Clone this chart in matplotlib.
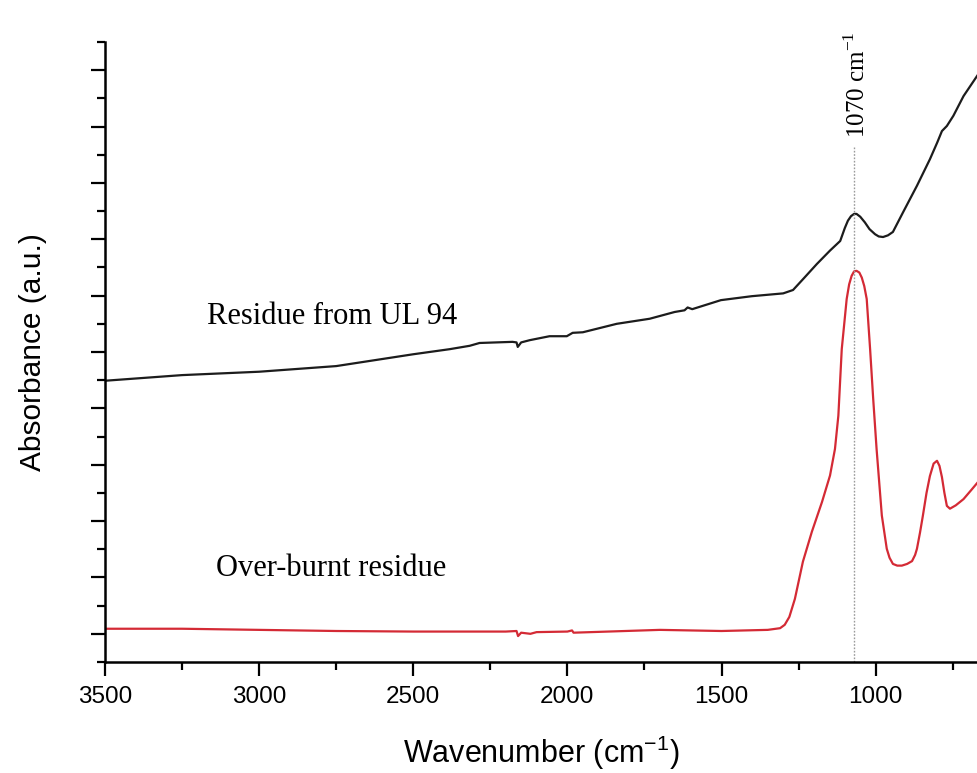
import numpy as np
import matplotlib
matplotlib.use("Agg")
import matplotlib.pyplot as plt
from matplotlib.ticker import MultipleLocator, NullFormatter

# Espectros FTIR (numero de onda, absorbancia desplazada)
ul94_wn = [3500, 3250, 3000, 2750, 2500, 2382, 2317, 2285, 2178, 2165, 2161, 2150,
           2122, 2058, 2002, 1983, 1950, 1840, 1733, 1652, 1620, 1610, 1595, 1502,
           1402, 1300, 1268, 1236, 1191, 1148, 1115, 1100, 1090, 1080, 1070, 1062,
           1050, 1035, 1020, 1002, 990, 976, 960, 944, 911, 866, 824, 800, 785,
           769, 748, 715, 667]
ul94_abs = [4.49, 4.59, 4.65, 4.75, 4.96, 5.05, 5.11, 5.16, 5.18, 5.17, 5.09, 5.17,
            5.21, 5.28, 5.28, 5.34, 5.35, 5.50, 5.59, 5.71, 5.74, 5.79, 5.76, 5.92,
            5.99, 6.04, 6.10, 6.29, 6.56, 6.80, 6.97, 7.20, 7.33, 7.41, 7.45, 7.45,
            7.40, 7.30, 7.18, 7.09, 7.05, 7.04, 7.07, 7.13, 7.48, 7.95, 8.42, 8.72,
            8.92, 9.01, 9.19, 9.54, 9.93]

burnt_wn = [3500, 3250, 3000, 2750, 2500, 2200, 2165, 2160, 2150, 2120, 2100, 2000,
            1985, 1980, 1700, 1500, 1350, 1310, 1295, 1280, 1262, 1236, 1207, 1174,
            1148, 1132, 1121, 1110, 1094, 1086, 1078, 1070, 1062, 1053, 1045, 1037,
            1029, 1018, 1008, 997, 980, 964, 955, 944, 930, 915, 898, 882, 872, 866,
            856, 847, 835, 824, 812, 801, 793, 785, 777, 769, 759, 740, 715, 690, 667]
burnt_abs = [0.09, 0.09, 0.07, 0.05, 0.04, 0.04, 0.05, -0.04, 0.02, 0.00, 0.03, 0.04,
             0.06, 0.02, 0.07, 0.05, 0.07, 0.10, 0.16, 0.30, 0.62, 1.28, 1.81, 2.34,
             2.81, 3.28, 3.87, 5.05, 5.94, 6.20, 6.35, 6.43, 6.44, 6.41, 6.32, 6.17,
             5.94, 5.05, 4.17, 3.28, 2.10, 1.51, 1.35, 1.24, 1.21, 1.21, 1.24, 1.29,
             1.40, 1.51, 1.80, 2.09, 2.50, 2.80, 3.02, 3.07, 2.98, 2.78, 2.50, 2.27,
             2.22, 2.28, 2.39, 2.55, 2.70]

x_ticks = [3500, 3000, 2500, 2000, 1500, 1000]
peak_wn = 1070
labels = ["Residue from UL 94", "Over-burnt residue"]

sans = "Liberation Sans"
serif = "Liberation Serif"

fig = plt.figure(figsize=(9.78, 7.73), dpi=100)
ax = fig.add_axes([105 / 978, 111 / 773, 873 / 978, 620 / 773])

ax.plot(ul94_wn, ul94_abs, color="#1c1c1c", lw=1.6)
ax.plot(burnt_wn, burnt_abs, color="#d42a35", lw=1.6)

ax.vlines(peak_wn, -0.5, 8.63, colors="#9a9a9a", linestyles=(0, (1.2, 1.2)), lw=1.0)
ax.text(peak_wn - 10, 8.8, r"1070 cm$^{\mathregular{-1}}$", rotation=90,
        ha="center", va="bottom", family=serif, fontsize=18)

ax.text(3170, 5.5, labels[0], family=serif, fontsize=22, va="baseline")
ax.text(3140, 1.03, labels[1], family=serif, fontsize=22, va="baseline")

ax.set_xlim(3500, 668)
ax.set_ylim(-0.5, 10.5)

ax.set_xticks(x_ticks)
ax.xaxis.set_minor_locator(MultipleLocator(250))
ax.yaxis.set_major_locator(MultipleLocator(1))
ax.yaxis.set_minor_locator(MultipleLocator(0.5))
ax.yaxis.set_major_formatter(NullFormatter())

ax.tick_params(which="major", direction="out", length=10, width=1.6,
               labelsize=17.5, pad=7)
ax.tick_params(which="minor", direction="out", length=5.5, width=1.6)
for lab in ax.get_xticklabels():
    lab.set_family(sans)

for side in ["top", "right"]:
    ax.spines[side].set_visible(False)
for side in ["left", "bottom"]:
    ax.spines[side].set_linewidth(1.8)

ax.set_xlabel(r"Wavenumber (cm$^{\mathregular{-1}}$)", family=sans, fontsize=22,
              labelpad=19)
ax.set_ylabel("Absorbance (a.u.)", family=sans, fontsize=21.5, labelpad=25)

fig.savefig("out.png", dpi=100)
